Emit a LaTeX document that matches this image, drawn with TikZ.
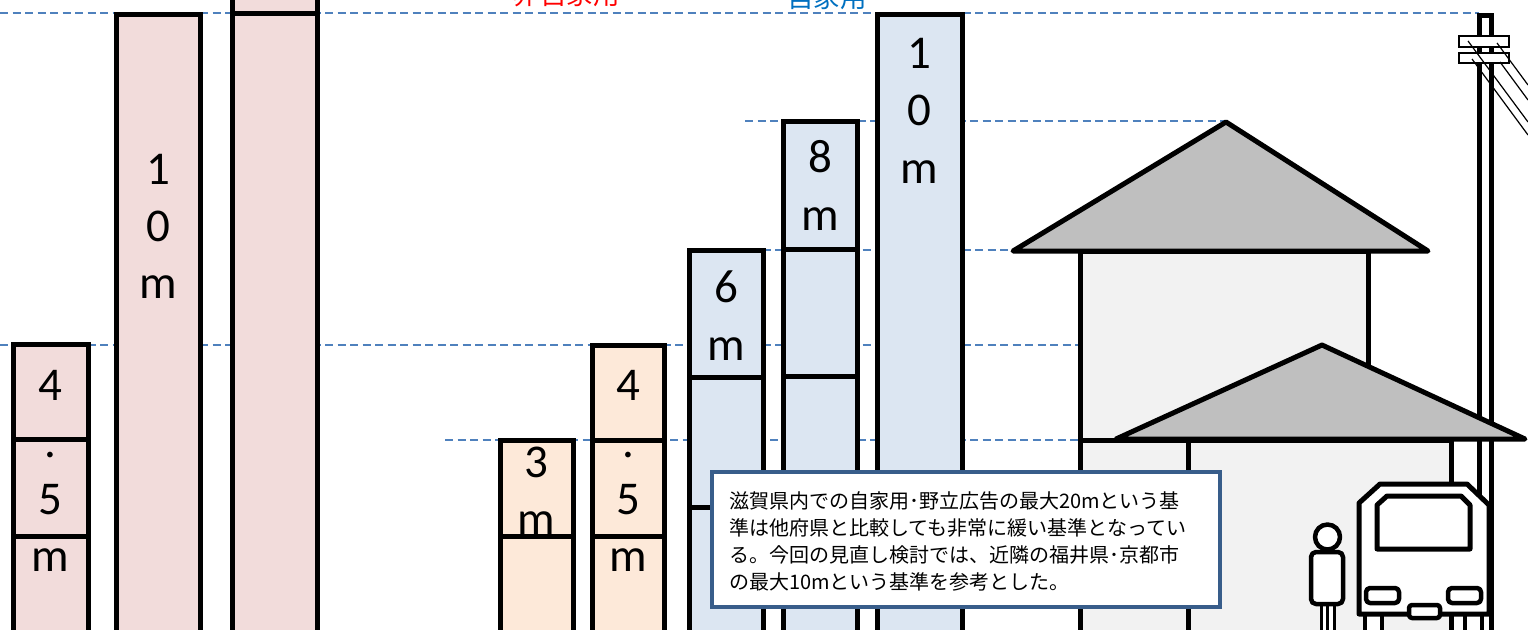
\documentclass[tikz,border=0pt]{standalone}
\usepackage{fontspec}
\newfontfamily\jpfont{Noto Sans CJK JP}
\newfontfamily\barfont{Carlito}

\definecolor{guideblue}{RGB}{79,129,189}
\definecolor{pinkfill}{RGB}{242,220,219}
\definecolor{peachfill}{RGB}{253,233,217}
\definecolor{bluefill}{RGB}{220,230,242}
\definecolor{roofgray}{RGB}{191,191,191}
\definecolor{wallgray}{RGB}{242,242,242}
\definecolor{boxblue}{RGB}{56,93,138}
\definecolor{labelblue}{RGB}{0,112,192}

\begin{document}
\begin{tikzpicture}[x=1pt,y=-1pt,
  guide/.style={draw=guideblue, line width=1.8pt, dash pattern=on 8pt off 4.5pt},
  bar/.style={draw=black, line width=5pt, line join=miter},
  barlabel/.style={font=\barfont\fontsize{47}{57}\selectfont, anchor=base, inner sep=0pt},
  house/.style={draw=black, line width=5pt, line join=round},
  figure/.style={draw=black, line width=4.5pt, line join=round, fill=white},
  notetext/.style={font=\jpfont\fontsize{20}{27}\selectfont, anchor=base west, inner sep=0pt},
  toplabel/.style={font=\jpfont\fontsize{26.5}{30}\selectfont, anchor=base, inner sep=0pt}]

\useasboundingbox (0,0) rectangle (1528,629);
\clip (0,0) rectangle (1528,629);

% height guide lines
\draw[guide] (0,13) -- (1479,13);
\draw[guide] (745,121) -- (1225,121);
\draw[guide] (700,250) -- (1014,250);
\draw[guide] (0,345) -- (1079,345);
\draw[guide] (445,440) -- (1079,440);

% category labels
\node[toplabel, text=red] (lblother) at (566.5,5) {非自家用};
\node[toplabel, text=labelblue] (lblown) at (827,8) {自家用};

% non-private signs (pink)
\draw[bar, fill=pinkfill] (13,700) rectangle (88,344);
\draw[bar] (13,439) -- (88,439);
\draw[bar] (13,536) -- (88,536);
\draw[bar, fill=pinkfill] (116,700) rectangle (200,14);
\draw[bar, fill=pinkfill] (232,700) rectangle (317,-100);
\draw[bar] (232,13) -- (317,13);

% private signs (peach)
\draw[bar, fill=peachfill] (500,700) rectangle (573,440);
\draw[bar] (500,536) -- (573,536);
\draw[bar, fill=peachfill] (592,700) rectangle (664,345);
\draw[bar] (592,440) -- (664,440);
\draw[bar] (592,536) -- (664,536);

% private signs (blue)
\draw[bar, fill=bluefill] (689,700) rectangle (763,250);
\draw[bar] (689,377) -- (763,377);
\draw[bar] (689,507) -- (763,507);
\draw[bar, fill=bluefill] (783,700) rectangle (857,121);
\draw[bar] (783,249) -- (857,249);
\draw[bar] (783,376) -- (857,376);
\draw[bar, fill=bluefill] (877,700) rectangle (962,14);

% bar heights, one character per line
\node[barlabel] (pa1) at (50.5,400) {4};
\node[barlabel] (pa2) at (50.5,457) {.};
\node[barlabel] (pa3) at (50.5,514) {5};
\node[barlabel] (pa4) at (50.5,571) {m};
\node[barlabel] (pb1) at (158,184) {1};
\node[barlabel] (pb2) at (158,241) {0};
\node[barlabel] (pb3) at (158,298) {m};
\node[barlabel] (oa1) at (536.5,477) {3};
\node[barlabel] (oa2) at (536.5,534) {m};
\node[barlabel] (ob1) at (628,400) {4};
\node[barlabel] (ob2) at (628,457) {.};
\node[barlabel] (ob3) at (628,514) {5};
\node[barlabel] (ob4) at (628,571) {m};
\node[barlabel] (ba1) at (726,302) {6};
\node[barlabel] (ba2) at (726,360) {m};
\node[barlabel] (bb1) at (820,172) {8};
\node[barlabel] (bb2) at (820,230) {m};
\node[barlabel] (bc1) at (919.5,68) {1};
\node[barlabel] (bc2) at (919.5,125) {0};
\node[barlabel] (bc3) at (919.5,183) {m};

% utility pole with cross-arms and wires
\draw[line width=5pt, fill=white] (1479.5,700) -- (1479.5,15) -- (1491.5,15) -- (1491.5,700);
\draw[line width=1.5pt, fill=white] (1459,36) rectangle (1509,47);
\draw[line width=1.5pt, fill=white] (1459,53) rectangle (1509,63);
\draw[line width=1.2pt] (1468,41) -- (1528,122);
\draw[line width=1.2pt] (1497,43) -- (1528,85);
\draw[line width=1.2pt] (1472,59) -- (1528,135);
\draw[line width=1.2pt] (1500,62) -- (1528,100);

% house: upper storey
\draw[house, fill=wallgray] (1080,440) rectangle (1368,251);
\draw[house, fill=roofgray] (1013,251) -- (1226,122) -- (1428,251) -- cycle;
% house: ground floor
\draw[house, fill=wallgray] (1080,700) -- (1080,440) -- (1451,440) -- (1451,700);
\draw[house] (1188,440) -- (1188,700);
\draw[house, fill=roofgray] (1116,439) -- (1322,345) -- (1525,439) -- cycle;

% note
\node[draw=boxblue, line width=4pt, fill=white, minimum width=508pt, minimum height=135pt,
      anchor=north west, inner sep=0pt] (note) at (710,470) {};
\node[notetext] (note1) at (729,508) {滋賀県内での自家用･野立広告の最大20mという基};
\node[notetext] (note2) at (729,535) {準は他府県と比較しても非常に緩い基準となってい};
\node[notetext] (note3) at (729,562) {る。今回の見直し検討では、近隣の福井県･京都市};
\node[notetext] (note4) at (729,589) {の最大10mという基準を参考とした。};

% pedestrian
\draw[line width=3pt, fill=white] (1321,604) rectangle (1327.5,700);
\draw[line width=3pt, fill=white] (1327.5,604) rectangle (1334,700);
\draw[figure, rounded corners=5pt] (1311,552) rectangle (1343,604);
\draw[figure] (1327.5,537) circle (12.5);

% train front
\draw[figure] (1365,614) rectangle (1382,700);
\draw[figure] (1465,614) rectangle (1482,700);
\draw[figure, line width=5pt] (1359,614) -- (1359,503) -- (1380,484) -- (1467,484) -- (1489,505) -- (1489,614) -- cycle;
\draw[figure, line width=5pt] (1377,549) -- (1377,505) -- (1387,496) -- (1461,496) -- (1470,505) -- (1470,549) -- cycle;
\draw[figure, rounded corners=4pt] (1366,588) rectangle (1399,603);
\draw[figure, rounded corners=4pt] (1448,588) rectangle (1481,603);
\draw[figure, rounded corners=3pt] (1409,605) rectangle (1440,618);
\end{tikzpicture}
\end{document}
